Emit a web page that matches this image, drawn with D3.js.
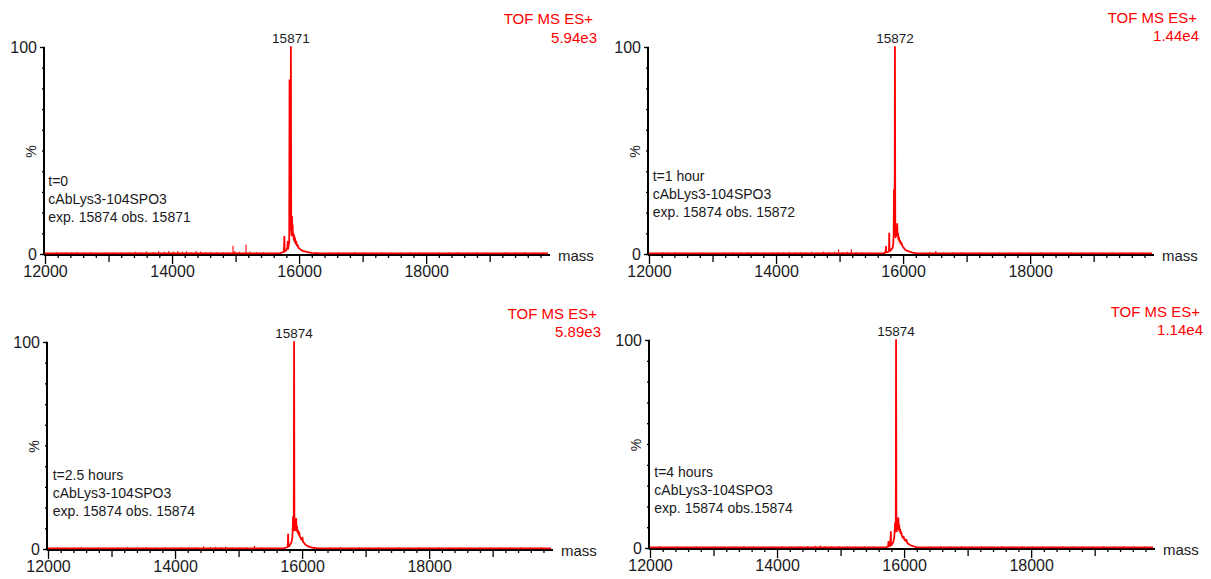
<!DOCTYPE html>
<html>
<head>
<meta charset="utf-8">
<script src="https://cdn.jsdelivr.net/npm/d3@7"></script>
<style>
  body { margin: 0; background: #fff; }
  svg { display: block; font-family: "Liberation Sans", Arial, sans-serif; }
</style>
</head>
<body>
<svg id="chart" width="1211" height="579"></svg>
<script>
// ---- Axis definitions ----
const massDomain = [12000, 19950];
const xMajorTicks = [12000, 14000, 16000, 18000];
const xMidTicks = [13000, 15000, 17000, 19000];
const yLabelTicks = [0, 100];

// ---- Per-spectrum text ----
const sampleTimes = ["t=0", "t=1 hour", "t=2.5 hours", "t=4 hours"];
const sampleNames = ["cAbLys3-104SPO3", "cAbLys3-104SPO3", "cAbLys3-104SPO3", "cAbLys3-104SPO3"];
const massNotes = ["exp. 15874 obs. 15871", "exp. 15874 obs. 15872", "exp. 15874 obs. 15874", "exp. 15874 obs.15874"];
const apexMasses = [15871, 15872, 15874, 15874];
const scanTitles = ["TOF MS ES+", "TOF MS ES+", "TOF MS ES+", "TOF MS ES+"];
const fullScale = ["5.94e3", "1.44e4", "5.89e3", "1.14e4"];

// ---- Deconvoluted spectra: [mass, relative intensity %] around the main peak ----
const traceT0 = [[12000,0.3],[15600,0.3],[15700,0.4],[15740,0.8],[15760,1.0],[15769,8.4],[15772,1.2],[15790,1.5],[15800,2.0],[15815,3.0],[15822,6.0],[15826,2.5],[15835,4.0],[15845,6.0],[15850,84],[15856,30],[15860,12],[15865,20],[15871,100],[15876,12],[15882,9],[15888,18],[15893,11],[15898,14],[15903,9],[15910,10],[15916,7],[15922,9],[15930,6],[15938,7.5],[15946,5],[15955,6],[15965,4],[15975,4.5],[15990,3],[16010,2.5],[16030,2],[16060,1.5],[16100,1.1],[16150,0.8],[16200,0.5],[16260,0.4],[16350,0.3],[19920,0.3]];
const traceT1 = [[12000,0.3],[15650,0.3],[15700,0.4],[15725,0.8],[15730,3.5],[15735,0.8],[15760,1.0],[15778,1.2],[15782,10],[15786,1.5],[15800,1.5],[15820,2.5],[15835,3],[15845,5],[15852,9],[15856,31],[15861,12],[15866,9],[15872,100],[15877,10],[15884,8],[15890,13],[15896,9],[15902,12],[15908,14.5],[15913,9],[15920,10],[15927,7],[15935,8],[15943,6],[15952,6.5],[15962,5],[15972,5.5],[15982,4.5],[15995,3.5],[16010,3],[16030,2.2],[16060,1.6],[16100,1.1],[16150,0.7],[16200,0.4],[16260,0.3],[19920,0.3]];
const traceT25 = [[12000,0.3],[15650,0.3],[15700,0.3],[15740,0.6],[15775,1],[15780,7],[15785,1.2],[15800,1.5],[15820,2.5],[15835,3.5],[15848,6],[15858,15.5],[15864,9],[15869,12],[15874,100],[15879,11],[15886,9],[15893,13],[15900,10],[15907,14.5],[15913,9],[15920,11],[15928,8],[15936,9],[15945,7],[15955,8],[15965,6],[15975,5.5],[15990,4.5],[16005,5.5],[16015,3.5],[16030,3],[16050,2.2],[16080,1.5],[16120,1],[16170,0.6],[16230,0.4],[16300,0.3],[19920,0.3]];
const traceT4 = [[12000,0.3],[15650,0.3],[15720,0.4],[15750,0.8],[15753,3],[15757,0.8],[15780,1],[15791,7.7],[15795,1.3],[15815,2],[15830,3],[15845,5],[15852,8],[15858,12],[15864,8],[15869,10],[15874,100],[15879,10],[15885,8],[15892,13],[15898,9],[15904,12],[15910,14.4],[15916,9],[15923,11],[15930,8],[15938,9],[15946,7],[15955,7.5],[15965,6],[15978,5],[15992,5.5],[16005,4],[16020,3.5],[16035,4],[16050,2.5],[16075,1.8],[16110,1.2],[16150,0.8],[16200,0.4],[16260,0.3],[19920,0.3]];

// ---- Baseline noise spikes: [mass, relative intensity %] ----
const noiseT0 = [[12180,0.9],[12260,0.7],[12330,1.0],[12420,0.8],[12500,0.9],[12610,0.7],[12720,0.8],[12850,0.6],[12960,0.8],[13080,0.7],[13200,0.9],[13330,0.8],[13420,1.1],[13510,0.9],[13600,1.2],[13700,1.0],[13790,1.3],[13880,1.1],[13950,1.4],[14020,1.2],[14090,1.5],[14160,1.1],[14230,1.3],[14300,1.0],[14380,1.4],[14450,1.2],[14530,0.9],[14610,1.1],[14700,0.8],[14800,1.0],[14890,0.9],[14960,4.0],[14990,1.5],[15060,1.1],[15165,4.6],[15230,1.2],[15330,0.9],[15440,0.8],[15550,0.7],[16480,0.8],[16620,0.9],[16750,0.7],[16880,1.0],[17020,0.8],[17150,0.7],[17300,0.9],[17460,0.8],[17600,0.7],[17750,1.0],[17890,0.8],[18050,0.7],[18200,0.9],[18360,0.8],[18500,1.0],[18650,0.7],[18800,0.9],[18950,0.8],[19100,0.7],[19250,0.9],[19400,0.8],[19550,1.0],[19700,0.7],[19850,0.8]];
const noiseT1 = [[12220,0.8],[12300,0.7],[12410,0.9],[12530,0.7],[12680,0.6],[12840,0.7],[13010,0.6],[13180,0.7],[13320,0.9],[13450,0.8],[13560,1.0],[13680,0.8],[13800,0.7],[13950,0.8],[14030,1.0],[14120,0.9],[14210,1.1],[14300,0.9],[14390,1.0],[14470,0.8],[14560,1.1],[14650,0.9],[14740,1.2],[14830,1.0],[14920,1.1],[14985,2.2],[15050,1.0],[15120,1.1],[15185,2.3],[15260,1.0],[15360,0.8],[15480,0.7],[15580,0.6],[16420,0.8],[16515,1.4],[16640,0.7],[16780,0.8],[16920,0.9],[17060,0.7],[17210,0.8],[17360,0.7],[17520,0.9],[17680,0.7],[17840,0.8],[18000,0.7],[18170,0.8],[18330,0.9],[18490,0.7],[18650,0.8],[18810,0.7],[18970,0.9],[19130,0.7],[19290,0.8],[19450,0.7],[19610,0.9],[19770,0.7]];
const noiseT25 = [[12150,0.8],[12270,0.7],[12390,0.6],[12520,0.8],[12660,0.6],[12800,0.7],[12950,0.6],[13100,0.7],[13250,0.8],[13400,0.7],[13550,0.8],[13700,0.7],[13850,0.8],[13980,0.7],[14100,0.8],[14220,0.9],[14340,0.8],[14450,1.3],[14560,0.9],[14640,1.1],[14720,1.0],[14800,1.2],[14900,0.8],[15020,0.7],[15140,0.8],[15250,1.4],[15370,0.7],[15500,0.6],[16450,0.7],[16600,0.8],[16760,0.7],[16900,0.9],[17050,0.7],[17200,0.8],[17360,0.7],[17520,0.8],[17680,0.7],[17840,0.8],[18000,0.7],[18160,0.8],[18320,0.7],[18480,0.9],[18640,0.7],[18800,0.8],[18960,0.7],[19120,0.8],[19280,0.7],[19440,0.9],[19600,0.7],[19760,0.8]];
const noiseT4 = [[12160,0.7],[12290,0.6],[12430,0.7],[12580,0.6],[12730,0.7],[12880,0.6],[13030,0.7],[13180,0.6],[13330,0.7],[13480,0.8],[13630,0.7],[13780,0.6],[13930,0.7],[14080,0.8],[14220,0.7],[14360,0.8],[14480,0.9],[14600,1.1],[14680,1.2],[14760,1.0],[14850,0.9],[14980,0.8],[15110,0.7],[15240,0.9],[15380,0.7],[15520,0.6],[16420,0.7],[16580,0.8],[16740,0.7],[16900,0.8],[17060,0.7],[17220,0.8],[17380,0.7],[17540,0.8],[17700,0.7],[17860,0.8],[18020,0.7],[18180,0.8],[18340,0.7],[18500,0.8],[18660,0.7],[18820,0.8],[18980,0.7],[19140,0.8],[19300,0.7],[19460,0.8],[19620,0.7],[19780,0.8]];

const traces = [traceT0, traceT1, traceT25, traceT4];
const noises = [noiseT0, noiseT1, noiseT25, noiseT4];

// ---- Panel layout (pixel positions) ----
const layout = [
  { ox: 45,  oy: 47,  h: 207, tofR: 593,  tofY: 24,    fsR: 597,  fsY: 42.5,  noteX: 48.3,  noteY: 186 },
  { ox: 649, oy: 47,  h: 207, tofR: 1197, tofY: 22.5,  fsR: 1199, fsY: 41,    noteX: 652.7, noteY: 181 },
  { ox: 48,  oy: 342, h: 207, tofR: 597,  tofY: 318.5, fsR: 601,  fsY: 336.5, noteX: 52.7,  noteY: 479.5 },
  { ox: 650, oy: 340, h: 208, tofR: 1200, tofY: 316.5, fsR: 1203, fsY: 334.5, noteX: 654.3, noteY: 477 }
];
const plotWidth = 505;
const RED = "#ff0000";
const INK = "#1a1a22";

const svg = d3.select("#chart");

layout.forEach((L, i) => {
  const g = svg.append("g").attr("transform", `translate(${L.ox},${L.oy})`);
  const x = d3.scaleLinear().domain(massDomain).range([0, plotWidth]);
  const y = d3.scaleLinear().domain([0, 100]).range([L.h, 0]);

  // x axis: minor ticks every 200, mid ticks at odd thousands, labelled ticks every 2000
  const minor = d3.range(12200, massDomain[1], 200).filter(v => v % 1000 !== 0);
  const xMinor = g.append("g").attr("transform", `translate(0,${L.h})`)
    .call(d3.axisBottom(x).tickValues(minor).tickSize(4).tickFormat(""));
  const xMid = g.append("g").attr("transform", `translate(0,${L.h})`)
    .call(d3.axisBottom(x).tickValues(xMidTicks).tickSize(8).tickFormat(""));
  const xMajor = g.append("g").attr("transform", `translate(0,${L.h})`)
    .call(d3.axisBottom(x).tickValues(xMajorTicks).tickSize(10).tickPadding(2).tickFormat(d3.format("d")));

  // y axis: ticks every 10 %, labels at 0 and 100
  const yMinor = g.append("g")
    .call(d3.axisLeft(y).tickValues(d3.range(0, 101, 10)).tickSize(3).tickFormat(""));
  const yMajor = g.append("g")
    .call(d3.axisLeft(y).tickValues(yLabelTicks).tickSize(5).tickPadding(3).tickFormat(d3.format("d")));

  [xMinor, xMid, xMajor, yMinor, yMajor].forEach(a => {
    a.select(".domain").remove();
    a.selectAll("line").attr("stroke", "#000").attr("stroke-width", 1.3);
    a.selectAll("text").attr("fill", INK).style("font-size", "16px").style("font-family", "'Liberation Sans', Arial, sans-serif");
  });

  // axis lines
  g.append("line").attr("x1", -1).attr("x2", -1).attr("y1", 0).attr("y2", L.h + 1)
    .attr("stroke", "#000").attr("stroke-width", 2);
  g.append("line").attr("x1", -1).attr("x2", plotWidth).attr("y1", L.h + 1).attr("y2", L.h + 1)
    .attr("stroke", "#000").attr("stroke-width", 2);

  // baseline noise spikes
  g.append("g").selectAll("line").data(noises[i]).join("line")
    .attr("x1", d => x(d[0])).attr("x2", d => x(d[0]))
    .attr("y1", y(0)).attr("y2", d => y(d[1]))
    .attr("stroke", RED).attr("stroke-width", 1.1);

  // spectrum trace
  g.append("path").datum(traces[i])
    .attr("fill", "none").attr("stroke", RED).attr("stroke-width", 1.8)
    .attr("stroke-linejoin", "round")
    .attr("d", d3.line().x(d => x(d[0])).y(d => y(d[1])));

  // apex label
  g.append("text").attr("x", x(apexMasses[i])).attr("y", y(100) - 4)
    .attr("text-anchor", "middle").attr("fill", INK).style("font-size", "13.5px")
    .text(apexMasses[i]);

  // "%" and "mass" axis titles
  g.append("text").attr("transform", `translate(-14.5,${L.h / 2 + 1}) rotate(-90)`)
    .attr("text-anchor", "middle").attr("dominant-baseline", "central")
    .attr("fill", INK).style("font-size", "14px").text("%");
  g.append("text").attr("x", plotWidth + 8).attr("y", L.h + 7)
    .attr("fill", INK).style("font-size", "15px").text("mass");

  // sample annotation
  [sampleTimes[i], sampleNames[i], massNotes[i]].forEach((t, k) => {
    svg.append("text").attr("x", L.noteX).attr("y", L.noteY + k * 18)
      .attr("fill", INK).style("font-size", "14px").text(t);
  });

  // acquisition title and full-scale intensity
  svg.append("text").attr("x", L.tofR).attr("y", L.tofY).attr("text-anchor", "end")
    .attr("fill", RED).style("font-size", "15px").text(scanTitles[i]);
  svg.append("text").attr("x", L.fsR).attr("y", L.fsY).attr("text-anchor", "end")
    .attr("fill", RED).style("font-size", "15px").text(fullScale[i]);
});
</script>
</body>
</html>
